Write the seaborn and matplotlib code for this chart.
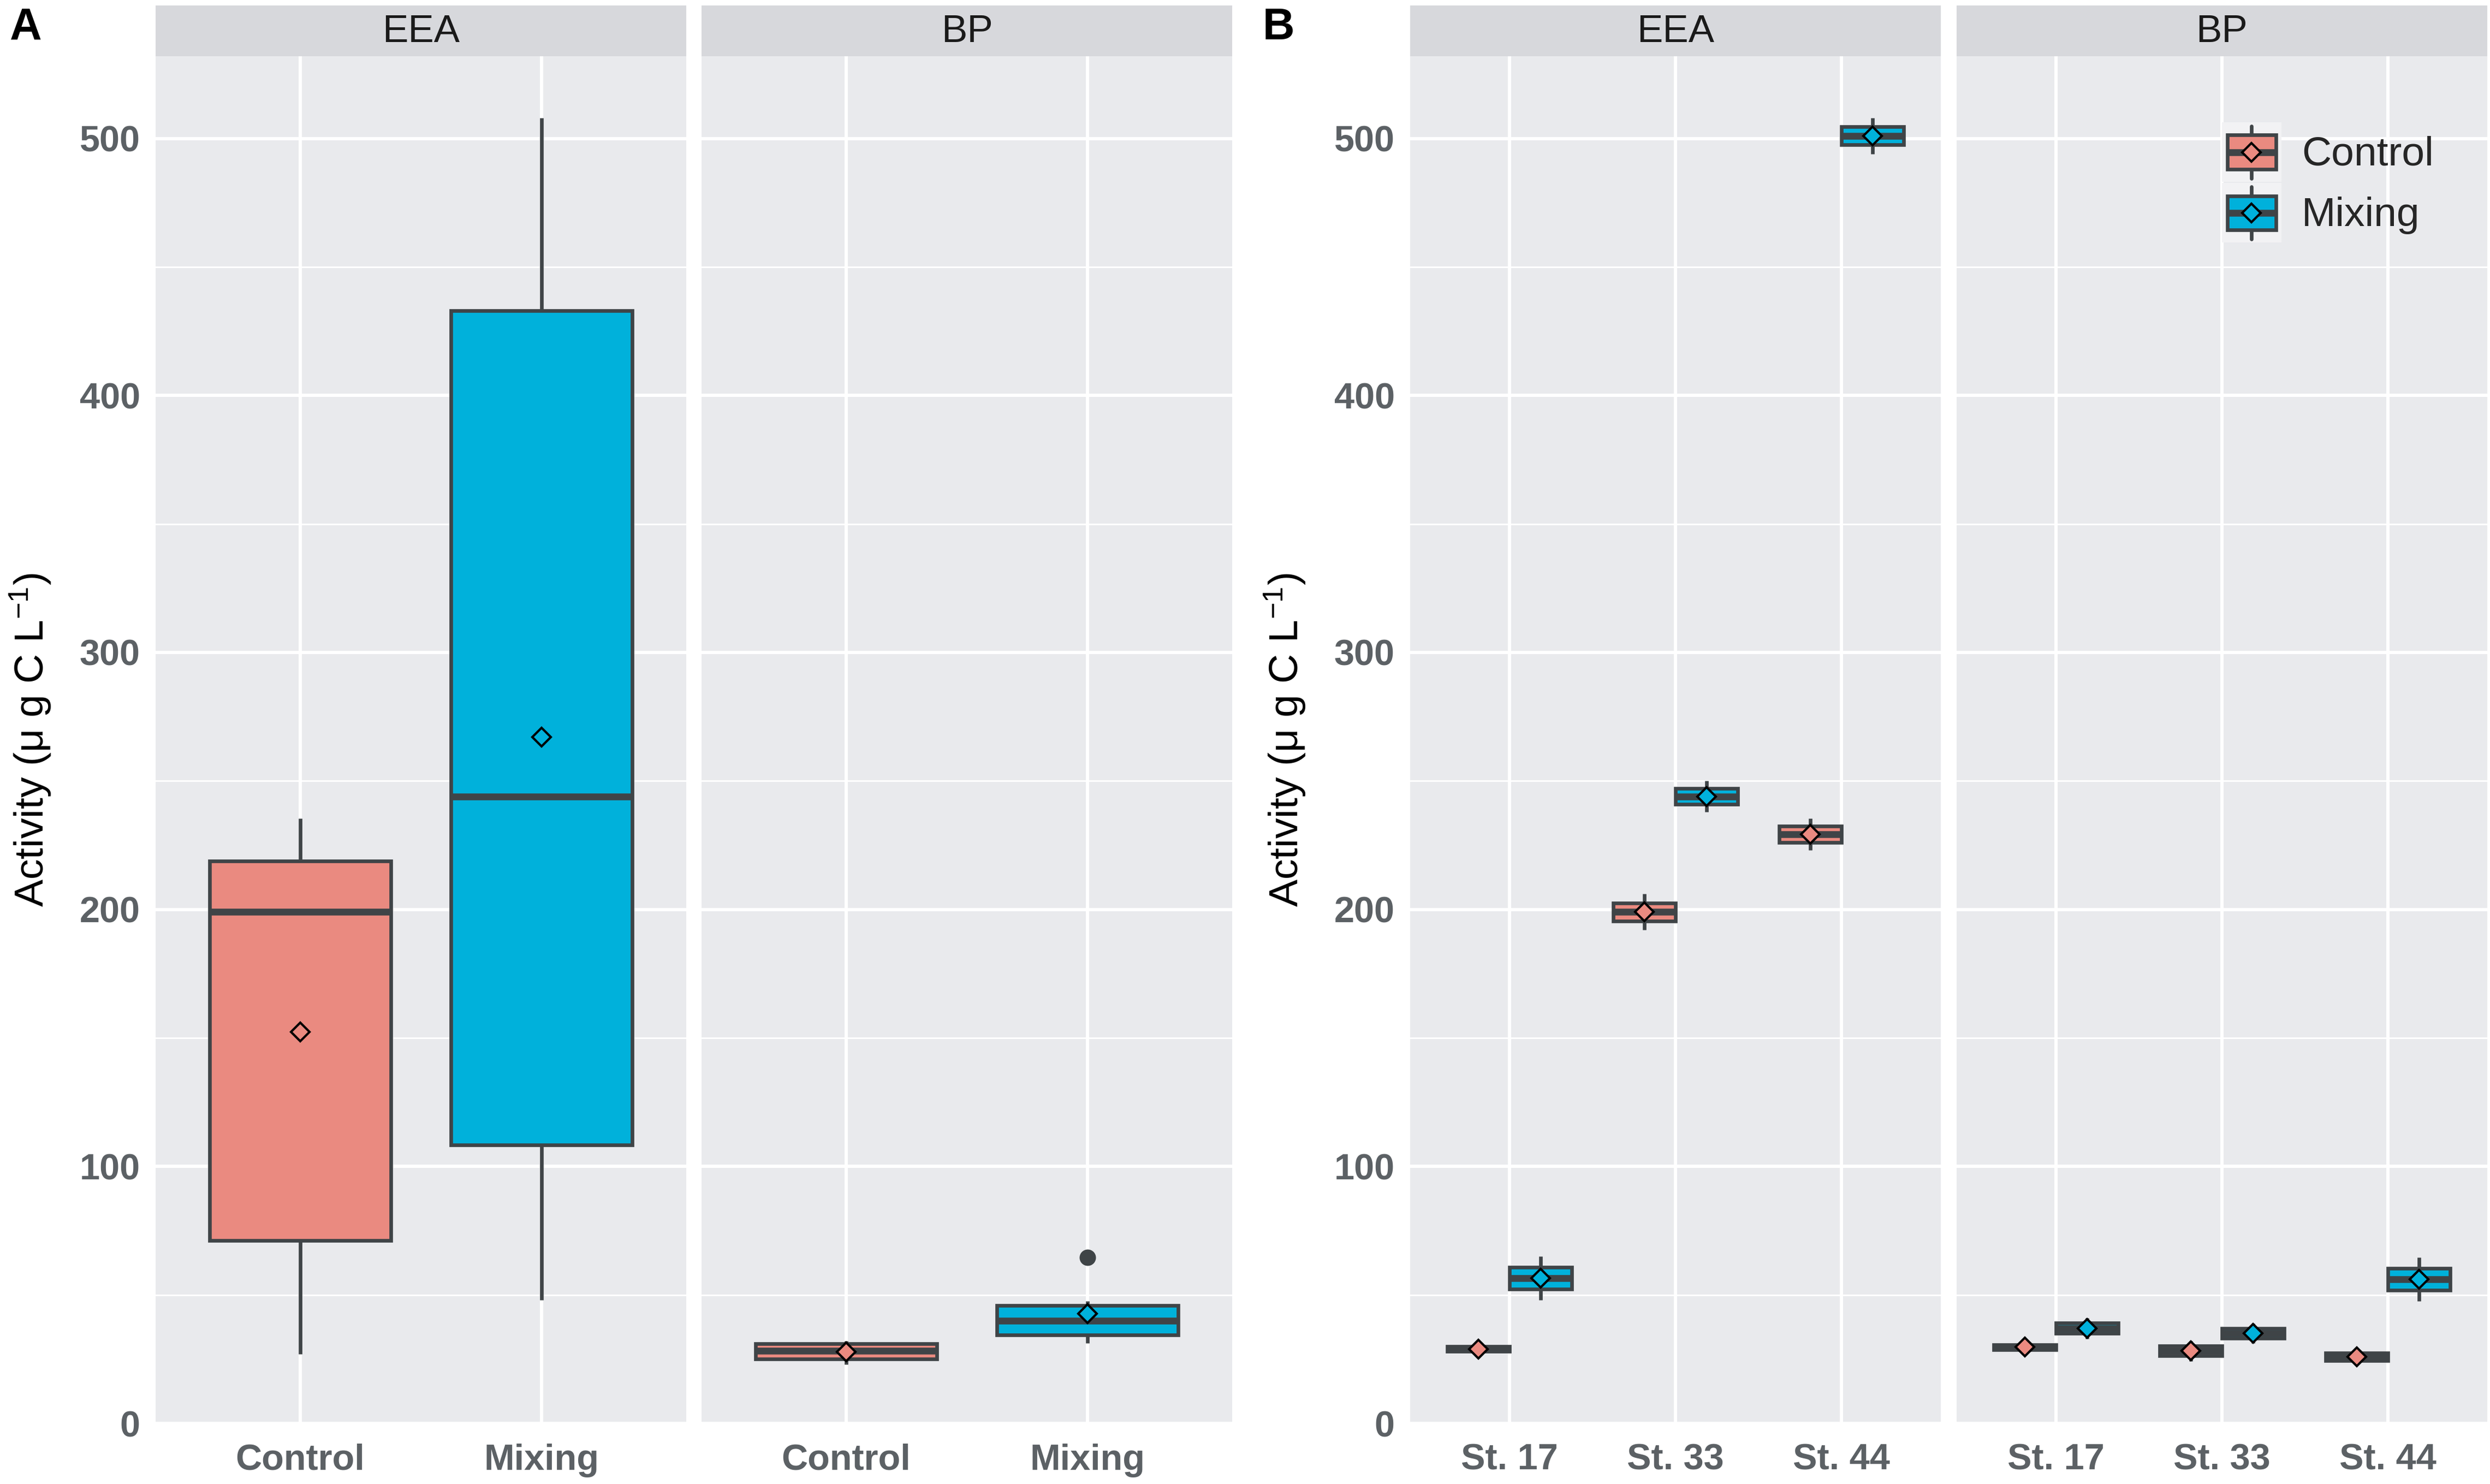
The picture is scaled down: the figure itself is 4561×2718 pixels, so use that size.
import numpy as np
import pandas as pd
import matplotlib
matplotlib.use("Agg")
import matplotlib.pyplot as plt
import seaborn as sns
from matplotlib.lines import Line2D
from matplotlib.patches import Patch, Rectangle
from matplotlib.legend_handler import HandlerBase
from matplotlib.ticker import MultipleLocator

# ── Data (two replicate incubations per station and treatment) ────────────────

treatments = ["Control", "Mixing"]
stations = ["St. 17", "St. 33", "St. 44"]
variables = ["EEA", "BP"]
replicate_station = ["St. 17", "St. 17", "St. 33", "St. 33", "St. 44", "St. 44"]

eea_control = [27.0, 31.0, 192.0, 206.0, 223.0, 235.5]
eea_mixing  = [48.0, 65.0, 238.0, 250.0, 494.0, 508.0]
bp_control  = [27.8, 31.6, 24.3, 32.1, 22.9, 28.9]
bp_mixing   = [33.0, 41.0, 31.2, 38.8, 47.5, 64.5]

rows = []
for var, trt, vals in [("EEA", "Control", eea_control), ("EEA", "Mixing", eea_mixing),
                       ("BP", "Control", bp_control), ("BP", "Mixing", bp_mixing)]:
    for st, v in zip(replicate_station, vals):
        rows.append({"variable": var, "treatment": trt, "station": st, "activity": v})
df = pd.DataFrame(rows)

# ── Style ─────────────────────────────────────────────────────────────────────

palette = {"Control": "#EA8A80", "Mixing": "#00B1DB"}
EDGE = "#3F4447"
PANEL_BG = "#E9EAED"
STRIP_BG = "#D7D8DC"
KEY_BG = "#F2F2F4"
TICK_LABEL = "#5C6165"
BOX_LW = 1.6
MED_LW = 3.0
MEAN_MS = 5.8
MEAN_MEW = 1.0

sns.set_theme(style="darkgrid")
plt.rcParams["font.family"] = ["Liberation Sans", "DejaVu Sans"]
plt.rcParams["mathtext.fontset"] = "custom"
plt.rcParams["mathtext.rm"] = "Liberation Sans"
plt.rcParams["mathtext.default"] = "regular"

W, H = 4561, 2718
fig = plt.figure(figsize=(W / 300, H / 300), dpi=300)

PANEL_W = 972
TOP, BOTTOM, STRIP_TOP = 103, 2607, 10


def rect(left_px, top_px, bottom_px):
    return [left_px / W, 1 - bottom_px / H, PANEL_W / W, (bottom_px - top_px) / H]


def draw_facet(ax, data, x, order, dodge):
    sns.boxplot(data=data, x=x, y="activity", hue="treatment", order=order,
                hue_order=treatments, palette=palette, saturation=1, width=0.75,
                dodge=dodge, gap=0, linecolor=EDGE, linewidth=BOX_LW, showcaps=False,
                boxprops=dict(linewidth=BOX_LW),
                whiskerprops=dict(linewidth=BOX_LW),
                medianprops=dict(linewidth=MED_LW),
                flierprops=dict(marker="o", markerfacecolor=EDGE, markeredgecolor=EDGE,
                                markersize=6.2),
                legend=False, ax=ax)
    sns.pointplot(data=data, x=x, y="activity", hue="treatment", order=order,
                  hue_order=treatments, palette=palette, estimator="mean", errorbar=None,
                  markers="D", linestyles="none", dodge=0.375 if dodge else False,
                  markeredgecolor="black", markersize=MEAN_MS, markeredgewidth=MEAN_MEW,
                  zorder=5, legend=False, ax=ax)
    ax.set_xlim(-0.6, len(order) - 0.4)
    ax.set_ylim(0, 532)
    ax.yaxis.set_major_locator(MultipleLocator(100))
    ax.yaxis.set_minor_locator(MultipleLocator(50))
    ax.set_facecolor(PANEL_BG)
    ax.grid(which="major", color="white", linewidth=1.45)
    ax.grid(which="minor", axis="y", color="white", linewidth=0.7)
    for s in ax.spines.values():
        s.set_visible(False)
    ax.tick_params(which="major", length=3.8, width=1.0, color="#333333",
                   labelsize=16, labelcolor=TICK_LABEL)
    ax.tick_params(axis="x", pad=5)
    ax.tick_params(axis="y", pad=3)
    ax.tick_params(which="minor", length=0)
    for lab in ax.get_xticklabels() + ax.get_yticklabels():
        lab.set_fontweight("bold")
    ax.set_xlabel("")
    ax.set_ylabel("")


def add_strip(left_px, text):
    sax = fig.add_axes([left_px / W, 1 - TOP / H, PANEL_W / W, (TOP - STRIP_TOP) / H])
    sax.set_facecolor(STRIP_BG)
    sax.set_xticks([])
    sax.set_yticks([])
    sax.grid(False)
    for s in sax.spines.values():
        s.set_visible(False)
    sax.text(0.5, 0.47, text, ha="center", va="center", fontsize=17,
             color="#1A1A1A", transform=sax.transAxes)


layout = {"A": ([285, 1285], "treatment", treatments, False, 18),
          "B": ([2583, 3584], "station", stations, True, 2313)}

axes = {}
for panel, (lefts, xvar, order, dodge, letter_x) in layout.items():
    for left, var in zip(lefts, variables):
        ax = fig.add_axes(rect(left, TOP, BOTTOM))
        draw_facet(ax, df[df["variable"] == var], xvar, order, dodge)
        add_strip(left, var)
        axes[(panel, var)] = ax
        if var == "EEA":
            ax.set_ylabel("Activity (μ g C L$^{-1}$)", fontsize=18, color="black")
            ax.yaxis.set_label_coords(-0.193, 0.5)
        else:
            ax.tick_params(axis="y", left=False, labelleft=False)
    fig.text(letter_x / W, 1 - 13 / H, panel, fontsize=19.5, fontweight="bold",
             color="black", ha="left", va="top")


# ── Legend with ggplot-like box keys ──────────────────────────────────────────

class BoxKeyHandler(HandlerBase):
    def create_artists(self, legend, orig_handle, xdescent, ydescent, width, height,
                       fontsize, trans):
        x0, y0 = -xdescent, -ydescent
        cx, cy = x0 + width / 2, y0 + height / 2
        fill = orig_handle.get_facecolor()
        bg = Rectangle((x0, y0), width, height, facecolor=KEY_BG, edgecolor="none",
                       transform=trans)
        whisker = Line2D([cx, cx], [y0 + 0.06 * height, y0 + 0.94 * height],
                         color=EDGE, lw=BOX_LW, transform=trans)
        box = Rectangle((x0 + 0.09 * width, y0 + 0.215 * height), 0.82 * width,
                        0.57 * height, facecolor=fill, edgecolor=EDGE, lw=BOX_LW,
                        transform=trans)
        median = Line2D([x0 + 0.09 * width, x0 + 0.91 * width], [cy, cy], color=EDGE,
                        lw=MED_LW, solid_capstyle="butt", transform=trans)
        mean = Line2D([cx], [cy], marker="D", ms=MEAN_MS, mfc=fill, mec="black",
                      mew=MEAN_MEW, ls="none", transform=trans)
        return [bg, whisker, box, median, mean]


handles = [Patch(facecolor=palette[t]) for t in treatments]
axes[("B", "BP")].legend(handles, treatments, handler_map={Patch: BoxKeyHandler()},
                         loc="upper left", bbox_to_anchor=(4070 / W, 1 - 224 / H),
                         bbox_transform=fig.transFigure, frameon=False, fontsize=18,
                         handlelength=1.45, handleheight=1.86, labelspacing=0.03,
                         handletextpad=0.5, borderpad=0, borderaxespad=0)

fig.savefig("out.png", dpi=300)
